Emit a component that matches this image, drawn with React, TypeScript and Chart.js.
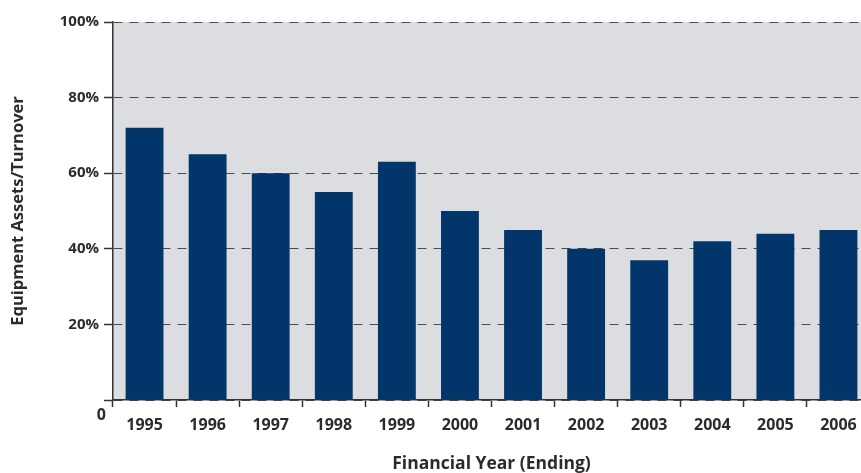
import React, { useEffect, useRef } from "react";
import { Chart, registerables } from "chart.js";

Chart.register(...registerables);

const years = ["1995", "1996", "1997", "1998", "1999", "2000", "2001", "2002", "2003", "2004", "2005", "2006"];
const ratioPct = [72, 65, 60, 55, 63, 50, 45, 40, 37, 42, 44, 45];
const yTickValues = [0, 20, 40, 60, 80, 100];

const xTitle = "Financial Year (Ending)";
const yTitle = "Equipment Assets/Turnover";

const FONT = "'Open Sans', sans-serif";
const TEXT = "#2b2b2b";
const NAVY = "#02356a";
const PLOT_BG = "#dcdde0";

// Fills the plot area and draws the axis titles plus the lone "0" label.
const decorPlugin = {
  id: "decor",
  beforeDraw(chart: any) {
    const { ctx, chartArea } = chart;
    ctx.save();
    ctx.fillStyle = PLOT_BG;
    ctx.fillRect(chartArea.left, chartArea.top, chartArea.right - chartArea.left, chartArea.bottom - chartArea.top);
    ctx.restore();
  },
  afterDraw(chart: any) {
    const { ctx, chartArea, scales } = chart;
    ctx.save();
    ctx.fillStyle = TEXT;
    ctx.font = `bold 16px ${FONT}`;
    ctx.textAlign = "right";
    ctx.textBaseline = "middle";
    ctx.fillText("0", 106, scales.y.getPixelForValue(0) + 15);

    ctx.textAlign = "center";
    ctx.font = `bold 17.5px ${FONT}`;
    ctx.fillText(xTitle, (chartArea.left + chartArea.right) / 2, 464);

    ctx.font = `bold 16.5px ${FONT}`;
    ctx.translate(18, (chartArea.top + chartArea.bottom) / 2);
    ctx.rotate(-Math.PI / 2);
    ctx.fillText(yTitle, 0, 0);
    ctx.restore();
  },
};

export default function App() {
  const ref = useRef<HTMLCanvasElement | null>(null);

  useEffect(() => {
    if (!ref.current) return;
    const chart = new Chart(ref.current, {
      type: "bar",
      data: {
        labels: years,
        datasets: [
          {
            data: ratioPct,
            backgroundColor: NAVY,
            borderWidth: 0,
            categoryPercentage: 1,
            barPercentage: 0.6,
          },
        ],
      },
      options: {
        responsive: false,
        animation: false,
        layout: { padding: { left: 0, top: 22, right: 10, bottom: 0 } },
        plugins: { legend: { display: false }, tooltip: { enabled: false } },
        scales: {
          x: {
            offset: true,
            grid: {
              offset: true,
              drawOnChartArea: false,
              drawTicks: true,
              tickLength: 7,
              tickColor: "#333",
              tickWidth: 1.5,
            },
            border: { display: true, color: "#333", width: 1.5 },
            ticks: {
              color: TEXT,
              font: { family: FONT, size: 16, weight: "bold" },
              padding: 9,
              maxRotation: 0,
              autoSkip: false,
            },
            afterFit(scale: any) {
              scale.height = 73;
            },
          },
          y: {
            min: 0,
            max: 100,
            afterBuildTicks(scale: any) {
              scale.ticks = yTickValues.map((v) => ({ value: v }));
            },
            grid: {
              color: "#4a4a4a",
              lineWidth: 1,
              drawTicks: true,
              tickLength: 9,
              tickColor: "#333",
              tickWidth: 1.5,
              tickBorderDash: [],
            },
            border: { display: true, color: "#333", width: 1.5, dash: [9, 7] },
            ticks: {
              color: TEXT,
              font: { family: FONT, size: 15, weight: "bold" },
              padding: 5,
              callback: (v: any) => (v === 0 ? "" : `${v}%`),
            },
            afterFit(scale: any) {
              scale.width = 113;
            },
          },
        },
      },
      plugins: [decorPlugin],
    });
    return () => chart.destroy();
  }, []);

  return (
    <div style={{ position: "fixed", left: 0, top: 0, width: 861, height: 473, overflow: "hidden", background: "#fff" }}>
      <canvas ref={ref} width={880} height={473} style={{ display: "block" }} />
    </div>
  );
}
